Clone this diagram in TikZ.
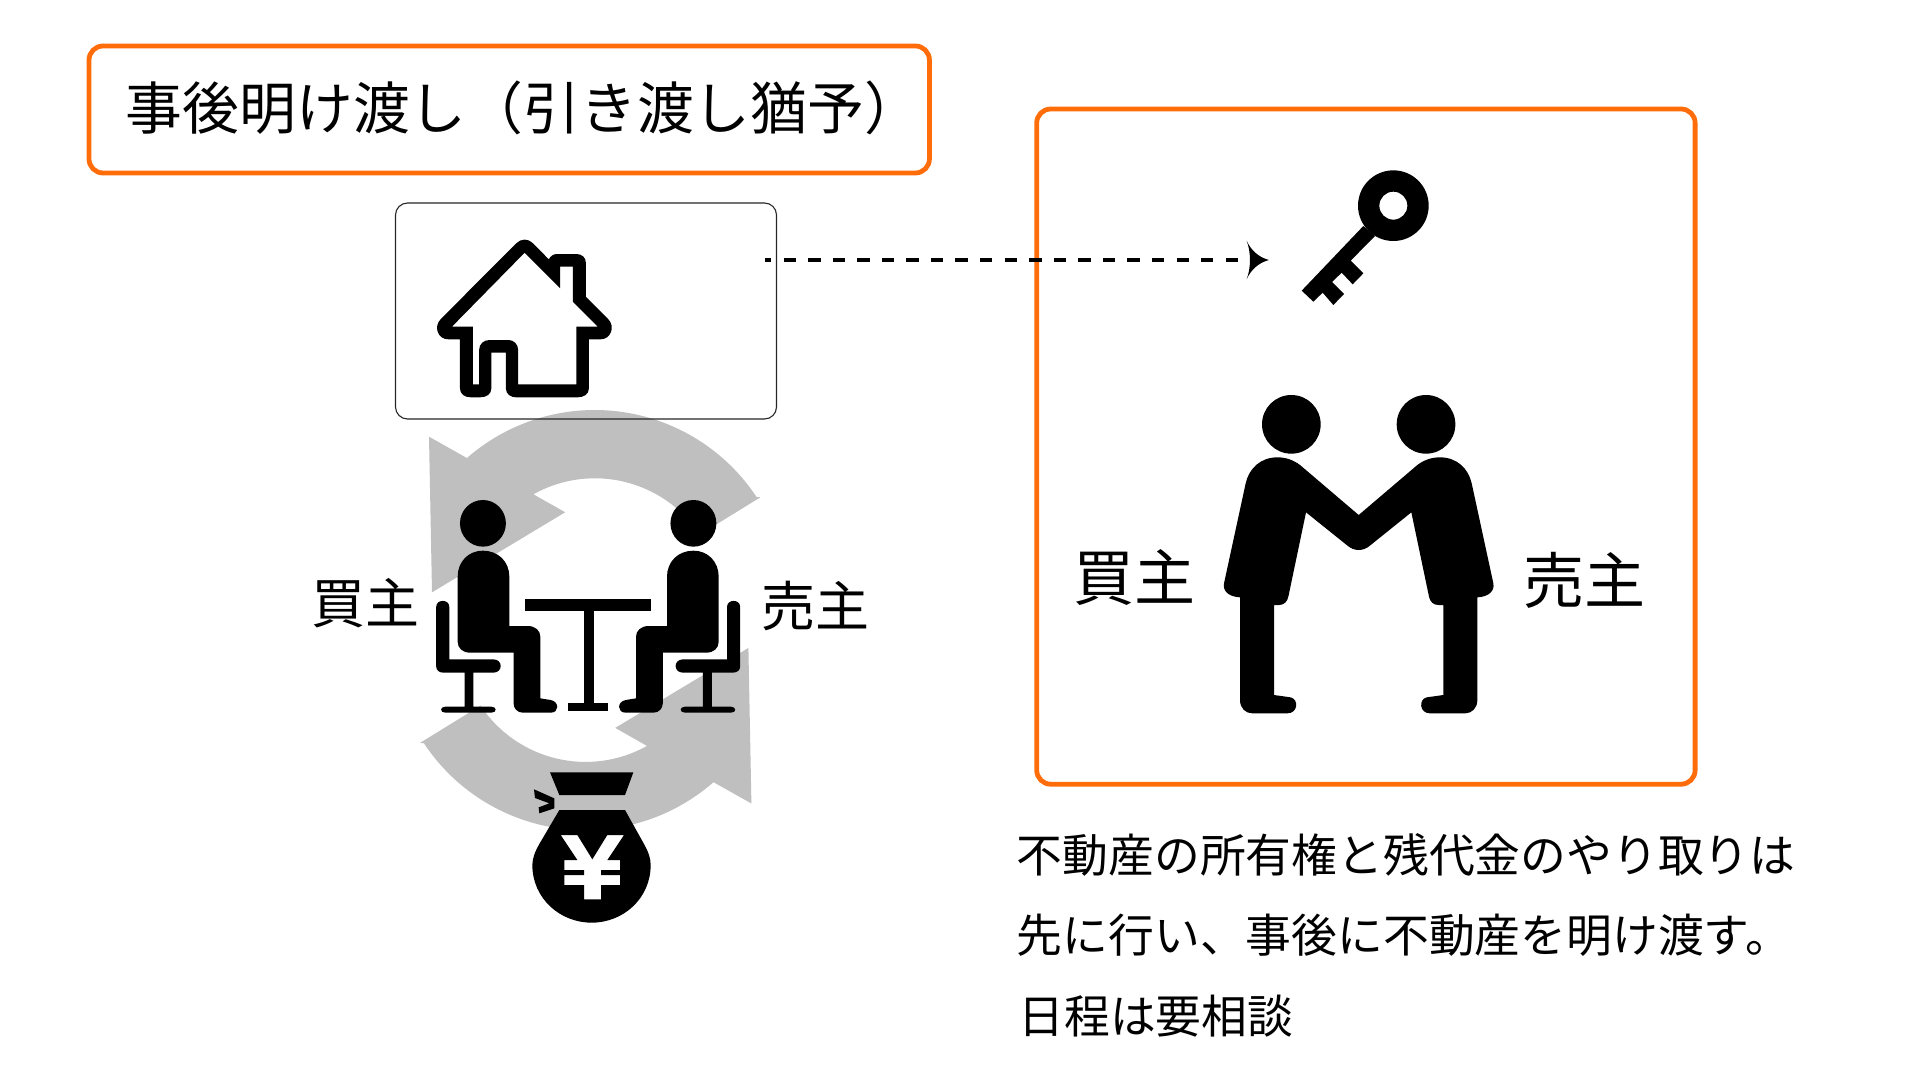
\documentclass[tikz,border=0pt]{standalone}
\usepackage{fontspec}
\setmainfont{Noto Sans CJK JP}
\definecolor{orangeline}{HTML}{FF6C0A}
\definecolor{arrowgray}{HTML}{BFBFBF}
\tikzset{
  orangebox/.style={draw=orangeline,line width=2.4pt,rounded corners=7pt,outer sep=0pt,inner sep=0pt,anchor=north west},
  thinbox/.style={draw=black!85,line width=0.55pt,rounded corners=6pt,outer sep=0pt,inner sep=0pt,anchor=north west},
  label/.style={anchor=west,inner sep=0pt,text=black}
}
\newcommand{\grayarrow}{%
  (760.4,497.3) -- (594.7,604) ++(33.5:97pt) arc[start angle=33.5,end angle=131.2,radius=97pt]
  -- (429,436.7) -- (432,592.3) -- (565.2,512.3) -- (533.4,494.3)
  arc[start angle=119.2,end angle=33.6,radius=63pt] -- (760.4,497.3) -- cycle}
\newcommand{\sitter}{%
  \fill (478,130) ellipse [x radius=60,y radius=70];
  \fill (412,290) .. controls (412,245) and (440,212) .. (478,212)
    .. controls (518,212) and (547,245) .. (547,290) -- (547,438) -- (595,438)
    .. controls (615,438) and (628,452) .. (628,470) -- (628,655) -- (655,660)
    .. controls (678,665) and (678,698) .. (655,698) -- (582,698)
    .. controls (568,698) and (558,685) .. (558,670) -- (558,518) -- (445,518)
    .. controls (425,518) and (412,505) .. (412,485) -- cycle;
  \fill (356,380) .. controls (356,357) and (390,357) .. (390,380) -- (390,538) -- (505,538)
    .. controls (531,538) and (531,578) .. (505,578) -- (453,578) -- (453,680) -- (500,680)
    .. controls (515,680) and (515,698) .. (500,698) -- (380,698)
    .. controls (365,698) and (365,680) .. (380,680) -- (430,680) -- (430,578) -- (375,578)
    .. controls (363,578) and (356,570) .. (356,560) -- cycle;
}
\begin{document}
\begin{tikzpicture}[x=0.5pt,y=-0.5pt]
\useasboundingbox (0,0) rectangle (1920,1080);
% gray cycle arrows
\fill[arrowgray] (594.7,604) ++(33.5:97pt) arc[start angle=33.5,end angle=131.2,radius=97pt]
  -- (429,436.7) -- (432,592.3) -- (565.2,512.3) -- (533.4,494.3)
  arc[start angle=119.2,end angle=33.6,radius=63pt] -- (760.4,497.3) -- cycle;
\fill[arrowgray,rotate around={180:(590.2,620.1)}] (594.7,604) ++(33.5:97pt) arc[start angle=33.5,end angle=131.2,radius=97pt]
  -- (429,436.7) -- (432,592.3) -- (565.2,512.3) -- (533.4,494.3)
  arc[start angle=119.2,end angle=33.6,radius=63pt] -- (760.4,497.3) -- cycle;
% boxes
\node[orangebox,minimum width=420.2pt,minimum height=63.5pt] (titlebox) at (89,46) {};
\node[label,font=\fontsize{28.4}{34}\selectfont] (title) at (125.5,108) {事後明け渡し（引き渡し猶予）};
\node[thinbox,minimum width=190.5pt,minimum height=108pt] (housebox) at (395.5,203) {};
\node[orangebox,minimum width=329.2pt,minimum height=337.6pt] (dealbox) at (1036.7,109) {};
% house
\begin{scope}[shift={(300,180)},x=0.19135pt,y=-0.16667pt]
\fill[even odd rule]
  (565,190) .. controls (578,175) and (596,175) .. (609,190) -- (650,238)
  .. controls (655,228) and (662,222) .. (672,222) -- (722,222)
  .. controls (737,222) and (747,233) .. (747,248) -- (747,350) -- (805,417)
  .. controls (825,440) and (812,478) .. (785,478) -- (755,478) -- (755,625)
  .. controls (755,642) and (742,652) .. (725,652) -- (565,652)
  .. controls (550,652) and (538,642) .. (538,625) -- (538,518) -- (500,518) -- (500,625)
  .. controls (500,642) and (488,652) .. (470,652) -- (447,652)
  .. controls (430,652) and (418,642) .. (418,625) -- (418,478) -- (388,478)
  .. controls (360,478) and (348,440) .. (368,417) -- cycle
  (587,218) -- (680,325) -- (680,260) -- (713,260) -- (713,365) -- (778,440) -- (722,440)
  -- (722,613) -- (570,613) -- (570,510)
  .. controls (570,492) and (558,480) .. (545,480) -- (495,480)
  .. controls (480,480) and (468,492) .. (468,510) -- (468,613) -- (452,613) -- (452,440) -- (397,440) -- cycle;
\end{scope}
% table and sitters
\begin{scope}[shift={(300,480)},x=0.19135pt,y=-0.16667pt]
\sitter
\begin{scope}[shift={(1506,0)},xscale=-1]
\sitter
\end{scope}
\fill (587,358) rectangle (918,394);
\fill (742,394) rectangle (769,670);
\fill (701,670) rectangle (806,692);
\end{scope}
% money bag
\begin{scope}[shift={(520,770)},x=0.16667pt,y=-0.16667pt]
\fill (90,7) -- (340,7) -- (315,75) -- (118,75) -- cycle;
\fill[even odd rule] (118,120) -- (315,120) -- (372,222) .. controls (385,245) and (392,265) .. (392,285)
  .. controls (392,385) and (310,458) .. (215,458)
  .. controls (120,458) and (37,385) .. (37,285)
  .. controls (37,265) and (45,245) .. (58,222) -- cycle
  (122,195) -- (172,195) -- (217,268) -- (262,195) -- (312,195) -- (262,270) -- (300,270)
  -- (300,300) -- (243,300) -- (243,315) -- (300,315) -- (300,345) -- (243,345) -- (243,388)
  -- (192,388) -- (192,345) -- (133,345) -- (133,315) -- (192,315) -- (192,300) -- (133,300)
  -- (133,270) -- (172,270) -- cycle;
\fill (42,58) -- (103,85) -- (103,115) -- (58,130) -- (56,112) -- (88,100) -- (45,84) -- cycle;
\end{scope}
% key
\begin{scope}[shift={(1200,150)},x=0.16667pt,y=-0.16667pt]
\fill[even odd rule] (580,167) circle [radius=106] (580,167) circle [radius=42];
\fill (490,228) -- (305,422) -- (340,455) -- (368,428) -- (400,465) -- (432,432) -- (396,396)
  -- (425,368) -- (458,403) -- (490,370) -- (452,332) -- (525,258) -- cycle;
\end{scope}
% handshake
\begin{scope}[shift={(1200,380)},x=0.16667pt,y=-0.16667pt]
\fill (274,133) circle [radius=88];
\fill (678,133) circle [radius=88];
\fill (232,232) .. controls (258,232) and (280,240) .. (300,255) -- (476,405) -- (652,255)
  .. controls (672,240) and (694,232) .. (720,232) .. controls (770,232) and (805,265) .. (815,310)
  -- (880,610) .. controls (884,632) and (868,650) .. (832,652) -- (832,960)
  .. controls (832,985) and (815,1000) .. (795,1000) -- (690,1000)
  .. controls (658,1000) and (655,958) .. (680,952) -- (730,945) -- (730,675) -- (715,675)
  .. controls (700,675) and (690,665) .. (687,650) -- (634,397) -- (512,495)
  .. controls (490,515) and (462,515) .. (440,495) -- (318,397) -- (265,650)
  .. controls (262,665) and (252,675) .. (237,675) -- (222,675) -- (222,945) -- (272,952)
  .. controls (297,958) and (294,1000) .. (262,1000) -- (157,1000)
  .. controls (137,1000) and (120,985) .. (120,960) -- (120,652)
  .. controls (84,650) and (68,632) .. (72,610) -- (137,310)
  .. controls (147,265) and (182,232) .. (232,232) -- cycle;
\end{scope}
% dashed connector
\coordinate (dashstart) at (765,260);
\coordinate (dashend) at (1250,260);
\draw[line width=2.4pt,dash pattern=on 6.2pt off 6.08pt,dash phase=3pt] (dashstart) -- (dashend);
\fill (1268.8,260) .. controls (1258,257) and (1251,250) .. (1246.7,241)
  .. controls (1251,252) and (1251,268) .. (1246.7,279)
  .. controls (1251,270) and (1258,263) .. (1268.8,260) -- cycle;
% labels
\node[label,font=\fontsize{27}{32}\selectfont] (buyerL) at (311,603) {買主};
\node[label,font=\fontsize{27}{32}\selectfont] (sellerL) at (761,606) {売主};
\node[label,font=\fontsize{30.5}{35}\selectfont] (buyerR) at (1073,578) {買主};
\node[label,font=\fontsize{30.5}{35}\selectfont] (sellerR) at (1523,580) {売主};
\node[label,font=\fontsize{22.9}{28}\selectfont] (line1) at (1016.5,854.7) {不動産の所有権と残代金のやり取りは};
\node[label,font=\fontsize{22.9}{28}\selectfont] (line2) at (1016.5,935.7) {先に行い、事後に不動産を明け渡す。};
\node[label,font=\fontsize{22.9}{28}\selectfont] (line3) at (1018,1015.7) {日程は要相談};
\end{tikzpicture}
\end{document}
